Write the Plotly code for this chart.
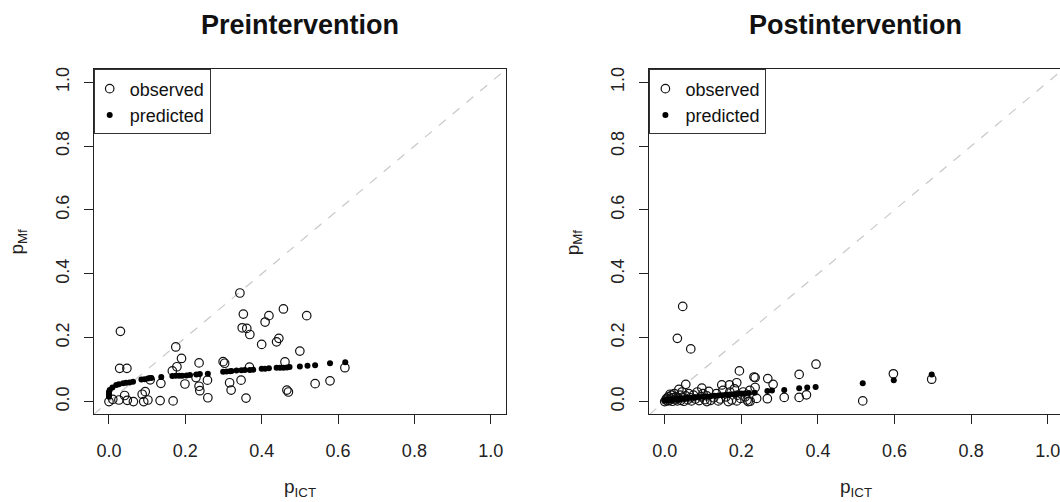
import plotly.graph_objects as go

# ---------------- data ----------------
pre_obs_x = [0.000, 0.010, 0.026, 0.030, 0.028, 0.047, 0.041, 0.048, 0.064, 0.087, 0.095, 0.091,
             0.102, 0.108, 0.136, 0.134, 0.168, 0.175, 0.190, 0.178, 0.166, 0.199, 0.236, 0.236,
             0.238, 0.259, 0.258, 0.228, 0.299, 0.303, 0.316, 0.320, 0.343, 0.352, 0.349, 0.361,
             0.369, 0.400, 0.409, 0.419, 0.457, 0.439, 0.445, 0.518, 0.500, 0.461, 0.368, 0.346,
             0.359, 0.466, 0.470, 0.540, 0.579, 0.618]
pre_obs_y = [0.000, 0.007, 0.005, 0.220, 0.104, 0.104, 0.019, 0.004, 0.000, 0.023, 0.031, 0.000,
             0.005, 0.068, 0.057, 0.003, 0.002, 0.171, 0.135, 0.109, 0.096, 0.055, 0.121, 0.048,
             0.034, 0.012, 0.067, 0.075, 0.125, 0.120, 0.059, 0.036, 0.340, 0.274, 0.231, 0.229,
             0.210, 0.179, 0.249, 0.269, 0.290, 0.187, 0.198, 0.269, 0.158, 0.124, 0.108, 0.067,
             0.011, 0.036, 0.030, 0.056, 0.065, 0.106]

pre_pred_x = [0.000, 0.000, 0.000, 0.002, 0.009, 0.019, 0.026, 0.037, 0.045, 0.054, 0.063, 0.085,
              0.093, 0.102, 0.111, 0.137, 0.166, 0.175, 0.184, 0.192, 0.203, 0.212, 0.229, 0.238,
              0.259, 0.299, 0.308, 0.317, 0.321, 0.334, 0.347, 0.356, 0.369, 0.378, 0.400, 0.409,
              0.419, 0.439, 0.448, 0.457, 0.466, 0.473, 0.500, 0.520, 0.540, 0.579, 0.619]
pre_pred_y = [0.015, 0.023, 0.030, 0.036, 0.044, 0.052, 0.054, 0.057, 0.059, 0.060, 0.062, 0.069,
              0.070, 0.072, 0.074, 0.077, 0.080, 0.081, 0.081, 0.081, 0.082, 0.083, 0.085, 0.086,
              0.087, 0.093, 0.094, 0.095, 0.096, 0.097, 0.098, 0.099, 0.099, 0.100, 0.103, 0.103,
              0.104, 0.106, 0.106, 0.106, 0.107, 0.108, 0.110, 0.112, 0.114, 0.120, 0.123]

post_obs_x = [0.047, 0.033, 0.068, 0.055, 0.195, 0.236, 0.269, 0.283, 0.268, 0.312, 0.351, 0.395,
              0.351, 0.370, 0.236, 0.188, 0.169, 0.149, 0.097, 0.037, 0.014, 0.140, 0.166, 0.188,
              0.218, 0.223, 0.110, 0.517, 0.597, 0.697, 0.233,
              0.000, 0.003, 0.005, 0.008, 0.010, 0.012, 0.015, 0.018, 0.020, 0.022, 0.025, 0.028,
              0.030, 0.033, 0.035, 0.040, 0.042, 0.045, 0.048, 0.050, 0.055, 0.060, 0.063, 0.067,
              0.070, 0.075, 0.080, 0.085, 0.090, 0.095, 0.100, 0.105, 0.110, 0.115, 0.120, 0.128,
              0.135, 0.145, 0.152, 0.160, 0.170, 0.175, 0.182, 0.190, 0.198, 0.205, 0.210, 0.215,
              0.222, 0.240]
post_obs_y = [0.298, 0.198, 0.165, 0.054, 0.096, 0.075, 0.072, 0.054, 0.009, 0.013, 0.085, 0.117,
              0.013, 0.021, 0.044, 0.059, 0.052, 0.052, 0.042, 0.038, 0.023, 0.002, 0.000, 0.002,
              0.000, 0.001, 0.000, 0.002, 0.087, 0.070, 0.077,
              0.000, 0.005, 0.010, 0.002, 0.015, 0.004, 0.008, 0.020, 0.001, 0.012, 0.025, 0.006,
              0.015, 0.002, 0.010, 0.020, 0.004, 0.030, 0.012, 0.001, 0.018, 0.006, 0.025, 0.012,
              0.002, 0.020, 0.008, 0.030, 0.003, 0.015, 0.025, 0.006, 0.018, 0.032, 0.004, 0.012,
              0.025, 0.008, 0.035, 0.015, 0.030, 0.005, 0.040, 0.020, 0.010, 0.030, 0.015, 0.005,
              0.035, 0.010]

post_pred_x = [0.000, 0.005, 0.010, 0.015, 0.020, 0.025, 0.030, 0.035, 0.040, 0.045, 0.050, 0.055,
               0.060, 0.065, 0.070, 0.075, 0.080, 0.090, 0.100, 0.110, 0.120, 0.130, 0.140, 0.150,
               0.160, 0.170, 0.180, 0.190, 0.200, 0.210, 0.220, 0.235, 0.268, 0.280, 0.312, 0.351,
               0.372, 0.394, 0.517, 0.598, 0.697]
post_pred_y = [0.003, 0.004, 0.004, 0.005, 0.006, 0.006, 0.007, 0.008, 0.008, 0.009, 0.010, 0.010,
               0.011, 0.012, 0.012, 0.013, 0.013, 0.014, 0.015, 0.016, 0.017, 0.018, 0.019, 0.020,
               0.021, 0.022, 0.023, 0.024, 0.025, 0.026, 0.027, 0.028, 0.033, 0.035, 0.036, 0.042,
               0.044, 0.046, 0.057, 0.067, 0.085]

tick_vals = [0.0, 0.2, 0.4, 0.6, 0.8, 1.0]
tick_text = ["0.0", "0.2", "0.4", "0.6", "0.8", "1.0"]
titles = ["Preintervention", "Postintervention"]
legend_names = ["observed", "predicted"]

# ---------------- figure ----------------
W, H = 1060, 502
FONT = "Liberation Sans, Arial, sans-serif"


def px(xpix):
    return xpix / W


def py(ypix):
    return 1 - ypix / H


fig = go.Figure()

panels = [
    (pre_obs_x, pre_obs_y, pre_pred_x, pre_pred_y, "x", "y", "legend"),
    (post_obs_x, post_obs_y, post_pred_x, post_pred_y, "x2", "y2", "legend2"),
]
for ox, oy, pxs, pys, xa, ya, lg in panels:
    fig.add_trace(go.Scatter(x=ox, y=oy, mode="markers", name=legend_names[0],
                             xaxis=xa, yaxis=ya, legend=lg,
                             marker=dict(symbol="circle-open", size=8.5, color="#111",
                                         line=dict(width=1.2, color="#111"))))
    fig.add_trace(go.Scatter(x=pxs, y=pys, mode="markers", name=legend_names[1],
                             xaxis=xa, yaxis=ya, legend=lg,
                             marker=dict(symbol="circle", size=6, color="#000")))

x_domains = [[px(93.7), px(506)], [px(649.4), 1.0]]
x_ranges = [[-0.04, 1.04], [-0.04, 1.032]]
y_domain = [py(414), py(67.7)]

axis_common = dict(
    tickvals=tick_vals, ticktext=tick_text, ticks="outside", ticklen=9, tickwidth=1,
    tickcolor="#222", showline=True, linecolor="#222", linewidth=1, showgrid=False,
    zeroline=False, tickfont=dict(family=FONT, size=18, color="#222"),
    ticklabeloverflow="allow",
)
fig.update_layout(
    xaxis=dict(domain=x_domains[0], range=x_ranges[0], anchor="y", mirror=True,
               ticklabelstandoff=11, **axis_common),
    yaxis=dict(domain=y_domain, range=[-0.04, 1.04], anchor="x", mirror=True,
               tickangle=-90, ticklabelstandoff=8, **axis_common),
    xaxis2=dict(domain=x_domains[1], range=x_ranges[1], anchor="y2", mirror=True,
                ticklabelstandoff=11, **axis_common),
    yaxis2=dict(domain=y_domain, range=[-0.04, 1.04], anchor="x2", mirror=False,
                tickangle=-90, ticklabelstandoff=8, **axis_common),
)

# 1:1 reference lines
for xa, ya in [("x", "y"), ("x2", "y2")]:
    fig.add_shape(type="line", xref=xa, yref=ya, x0=-0.04, y0=-0.04, x1=1.04, y1=1.04,
                  line=dict(color="#c8c8c8", width=1.2, dash="dash"), layer="below")

# titles and axis labels
centers = [px((93.7 + 506) / 2), px((649.4 + 1062) / 2)]
left_edges = [93.7, 649.4]
ycenter = (y_domain[0] + y_domain[1]) / 2
for i, c in enumerate(centers):
    fig.add_annotation(text="<b>%s</b>" % titles[i], x=c, y=py(23), xref="paper", yref="paper",
                       showarrow=False, xanchor="center", yanchor="middle",
                       font=dict(family=FONT, size=27, color="#111"))
    fig.add_annotation(text="p<sub>ICT</sub>", x=c, y=py(488), xref="paper", yref="paper",
                       showarrow=False, xanchor="center", yanchor="middle",
                       font=dict(family=FONT, size=19, color="#222"))
    fig.add_annotation(text="p<sub>Mf</sub>", x=px(left_edges[i] - 76), y=ycenter,
                       xref="paper", yref="paper", showarrow=False, textangle=-90,
                       xanchor="center", yanchor="middle",
                       font=dict(family=FONT, size=19, color="#222"))

legend_common = dict(
    xanchor="left", yanchor="top", y=y_domain[1],
    bgcolor="rgba(255,255,255,1)", bordercolor="#333", borderwidth=1,
    font=dict(family=FONT, size=18, color="#111"), itemwidth=30,
    indentation=-5, tracegroupgap=0,
)
fig.update_layout(
    width=W, height=H, margin=dict(l=0, r=0, t=0, b=0),
    paper_bgcolor="white", plot_bgcolor="white",
    legend=dict(x=px(left_edges[0]), **legend_common),
    legend2=dict(x=px(left_edges[1]), **legend_common),
)

fig.write_html("out.html", config={"displayModeBar": False},
               post_script="document.body.style.margin='0';document.body.style.overflow='hidden';")
